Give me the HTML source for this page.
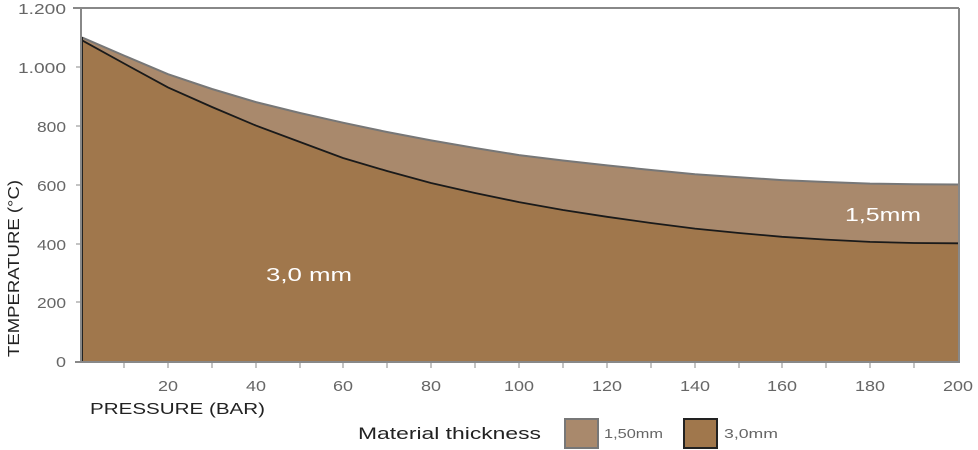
<!DOCTYPE html>
<html><head><meta charset="utf-8"><style>
body{margin:0;background:#fff;}
svg{display:block;font-family:"Liberation Sans",sans-serif;}
</style></head><body>
<svg width="978" height="450" viewBox="0 0 978 450">
<rect width="978" height="450" fill="#fff"/>
<polygon fill="#a9896c" points="82,37.4 125,56 168,74.2 212,89 256,102.1 300,113 343,122.7 387,132 431,140.4 475,148 519,155.1 563,160.5 607,165.4 651,170 695,174.2 739,177.3 782,180.1 826,182 870,183.6 914,184.2 958,184.5 958,361 82,361"/>
<polyline fill="none" stroke="#777" stroke-width="2" points="82,37.4 125,56 168,74.2 212,89 256,102.1 300,113 343,122.7 387,132 431,140.4 475,148 519,155.1 563,160.5 607,165.4 651,170 695,174.2 739,177.3 782,180.1 826,182 870,183.6 914,184.2 958,184.5"/>
<polygon fill="#a0774c" points="82,40.3 125,64 168,87.4 212,107 256,125.6 300,142 343,158 387,171 431,183 475,193 519,202.1 563,210 607,216.8 651,223 695,228.6 739,233 782,236.8 826,239.6 870,241.9 914,243 958,243.3 958,361 82,361"/>
<polyline fill="none" stroke="#1a1a1a" stroke-width="1.8" points="82,40.3 125,64 168,87.4 212,107 256,125.6 300,142 343,158 387,171 431,183 475,193 519,202.1 563,210 607,216.8 651,223 695,228.6 739,233 782,236.8 826,239.6 870,241.9 914,243 958,243.3"/>
<line x1="82" y1="37" x2="82" y2="361" stroke="#222" stroke-width="2"/>
<g stroke="#888" stroke-width="2" fill="none">
<line x1="73" y1="8" x2="959" y2="8"/>
<line x1="81" y1="8" x2="81" y2="362"/>
<line x1="959" y1="8" x2="959" y2="362"/>
<line x1="75" y1="362" x2="960" y2="362"/>
</g>
<g stroke="#888" stroke-width="1">
<line x1="76" y1="67" x2="81" y2="67"/><line x1="76" y1="126" x2="81" y2="126"/><line x1="76" y1="185" x2="81" y2="185"/><line x1="76" y1="244" x2="81" y2="244"/><line x1="76" y1="302" x2="81" y2="302"/>
<line x1="124" y1="362" x2="124" y2="368"/><line x1="168" y1="362" x2="168" y2="368"/><line x1="212" y1="362" x2="212" y2="368"/><line x1="256" y1="362" x2="256" y2="368"/><line x1="300" y1="362" x2="300" y2="368"/><line x1="343" y1="362" x2="343" y2="368"/><line x1="387" y1="362" x2="387" y2="368"/><line x1="431" y1="362" x2="431" y2="368"/><line x1="475" y1="362" x2="475" y2="368"/><line x1="519" y1="362" x2="519" y2="368"/><line x1="563" y1="362" x2="563" y2="368"/><line x1="607" y1="362" x2="607" y2="368"/><line x1="651" y1="362" x2="651" y2="368"/><line x1="695" y1="362" x2="695" y2="368"/><line x1="739" y1="362" x2="739" y2="368"/><line x1="782" y1="362" x2="782" y2="368"/><line x1="826" y1="362" x2="826" y2="368"/><line x1="870" y1="362" x2="870" y2="368"/><line x1="914" y1="362" x2="914" y2="368"/>
</g>
<g fill="#666" font-size="15" text-anchor="end" lengthAdjust="spacingAndGlyphs">
<text x="66" y="14" textLength="48" lengthAdjust="spacingAndGlyphs">1.200</text><text x="66" y="73" textLength="48" lengthAdjust="spacingAndGlyphs">1.000</text><text x="66" y="132" textLength="29" lengthAdjust="spacingAndGlyphs">800</text><text x="66" y="191" textLength="29" lengthAdjust="spacingAndGlyphs">600</text><text x="66" y="250" textLength="29" lengthAdjust="spacingAndGlyphs">400</text><text x="66" y="308" textLength="29" lengthAdjust="spacingAndGlyphs">200</text><text x="66" y="367" textLength="10" lengthAdjust="spacingAndGlyphs">0</text>
</g>
<g fill="#666" font-size="15" text-anchor="middle">
<text x="168" y="391" textLength="20" lengthAdjust="spacingAndGlyphs">20</text><text x="256" y="391" textLength="20" lengthAdjust="spacingAndGlyphs">40</text><text x="343" y="391" textLength="20" lengthAdjust="spacingAndGlyphs">60</text><text x="431" y="391" textLength="20" lengthAdjust="spacingAndGlyphs">80</text><text x="519" y="391" textLength="30" lengthAdjust="spacingAndGlyphs">100</text><text x="607" y="391" textLength="30" lengthAdjust="spacingAndGlyphs">120</text><text x="695" y="391" textLength="30" lengthAdjust="spacingAndGlyphs">140</text><text x="782" y="391" textLength="30" lengthAdjust="spacingAndGlyphs">160</text><text x="870" y="391" textLength="30" lengthAdjust="spacingAndGlyphs">180</text><text x="958" y="391" textLength="30" lengthAdjust="spacingAndGlyphs">200</text>
</g>
<text x="90" y="414" font-size="16" fill="#222" textLength="175" lengthAdjust="spacingAndGlyphs">PRESSURE (BAR)</text>
<text transform="translate(19,357) rotate(-90)" font-size="16" fill="#222" textLength="177" lengthAdjust="spacingAndGlyphs">TEMPERATURE (°C)</text>
<text x="266" y="281" font-size="18" fill="#fff" textLength="86" lengthAdjust="spacingAndGlyphs">3,0 mm</text>
<text x="845" y="221" font-size="18" fill="#fff" textLength="76" lengthAdjust="spacingAndGlyphs">1,5mm</text>
<text x="358" y="439" font-size="17" fill="#222" textLength="183" lengthAdjust="spacingAndGlyphs">Material thickness</text>
<rect x="565" y="419" width="33" height="29" fill="#a9896c" stroke="#777" stroke-width="2"/>
<text x="604" y="438" font-size="13" fill="#666" textLength="59" lengthAdjust="spacingAndGlyphs">1,50mm</text>
<rect x="684" y="419" width="33" height="29" fill="#a0774c" stroke="#222" stroke-width="2"/>
<text x="724" y="438" font-size="13" fill="#666" textLength="54" lengthAdjust="spacingAndGlyphs">3,0mm</text>
</svg>
</body></html>
